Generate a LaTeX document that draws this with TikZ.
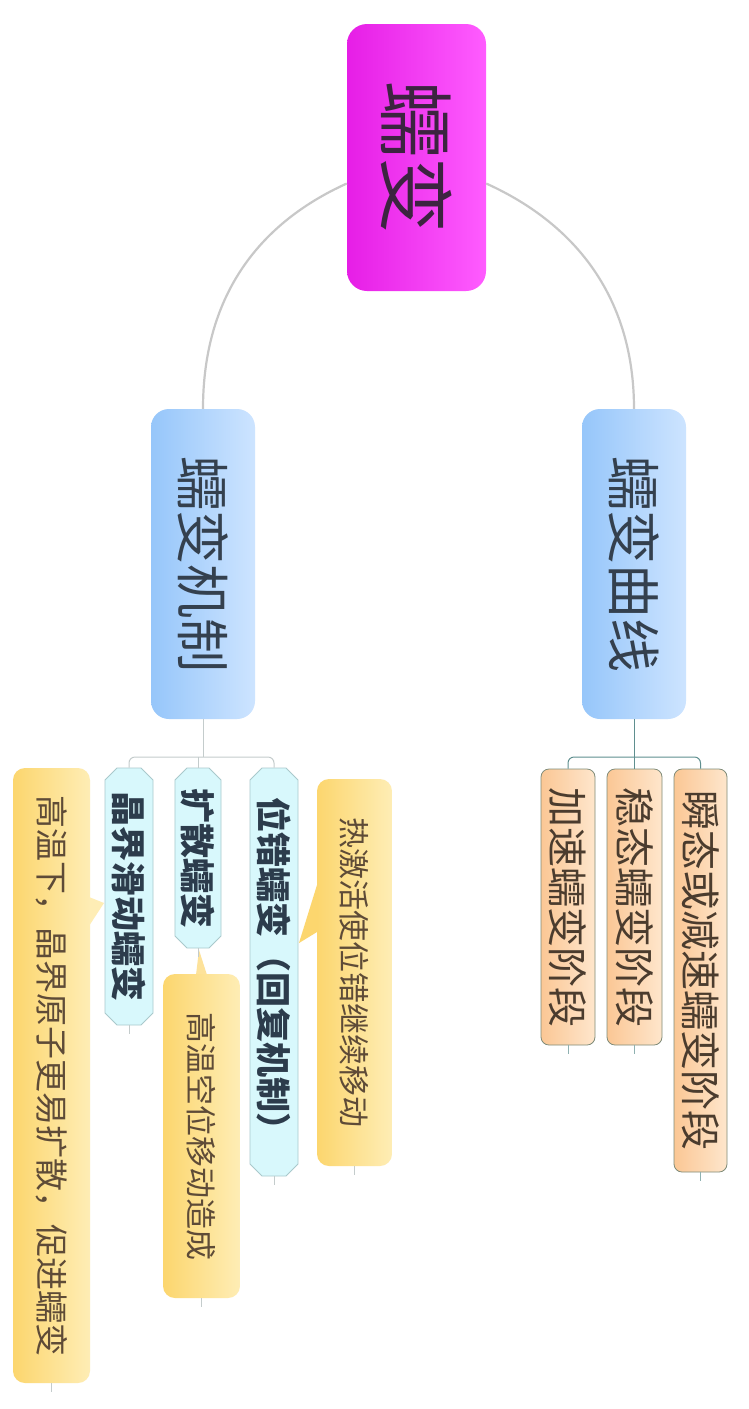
\documentclass[tikz,border=0pt]{standalone}
\usepackage{fontspec}
\usepackage{graphicx}
\usetikzlibrary{shapes.misc,calc}
\newfontfamily\cjk{Noto Sans CJK SC}
\definecolor{rootL}{HTML}{E61EE6}
\definecolor{rootR}{HTML}{FF5CFF}
\definecolor{rootT}{HTML}{3C2440}
\definecolor{loneL}{HTML}{96C6FA}
\definecolor{loneR}{HTML}{CDE4FF}
\definecolor{loneT}{HTML}{34404E}
\definecolor{cyF}{HTML}{D8F8FC}
\definecolor{cyD}{HTML}{A9C9CC}
\definecolor{cyT}{HTML}{2C3C4C}
\definecolor{orL}{HTML}{FBC795}
\definecolor{orR}{HTML}{FEE6CC}
\definecolor{orD}{HTML}{7F8B78}
\definecolor{orT}{HTML}{4B3C2E}
\definecolor{caL}{HTML}{FCD66E}
\definecolor{caR}{HTML}{FEEDB5}
\definecolor{caM}{HTML}{FDE29A}
\definecolor{caT}{HTML}{5E4B37}
\definecolor{arcC}{HTML}{C8C8C8}
\definecolor{brLC}{HTML}{C4CCCC}
\definecolor{brRC}{HTML}{5F8F8F}
\newcommand\vtxt[2]{\rotatebox{-90}{\fontsize{#1}{#1}\selectfont\cjk #2}}
\begin{document}
\begin{tikzpicture}[x=1pt,y=-1pt,
  rootbox/.style={rectangle, rounded corners=20pt, left color=rootL, right color=rootR, draw=none, inner sep=0pt, minimum width=139pt, minimum height=267pt, text=rootT},
  lonebox/.style={rectangle, rounded corners=18pt, left color=loneL, right color=loneR, draw=none, inner sep=0pt, minimum width=104pt, minimum height=310pt, text=loneT},
  cybox/.style={chamfered rectangle, chamfered rectangle xsep=6pt, chamfered rectangle ysep=6pt, fill=cyF, draw=cyD, line width=0.8pt, inner sep=0pt, text=cyT},
  orbox/.style={rectangle, rounded corners=8pt, left color=orL, right color=orR, draw=orD, line width=0.8pt, inner sep=0pt, text=orT},
  cabox/.style={rectangle, rounded corners=12pt, left color=caL, right color=caR, draw=none, inner sep=0pt, text=caT},
  arcline/.style={draw=arcC, line width=2.2pt},
  brL/.style={draw=brLC, line width=1pt},
  brR/.style={draw=brRC, line width=1pt},
  tickL/.style={draw=brLC, line width=0.8pt},
  tickR/.style={draw=brRC!70, line width=0.8pt}]
\useasboundingbox[fill=white] (0,0) rectangle (748,1409);

\coordinate (bl) at (0,757);

% callout pointers
\fill[caL] (317,885) -- (299,943) -- (317,932) -- cycle;
\fill[caM] (196,975) -- (199,950) -- (207,975) -- cycle;
\fill[caR] (89,897) -- (104,903) -- (89,926) -- cycle;

% nodes
\node[rootbox] (root) at (416.5,157.5) {\vtxt{76}{蠕变}};
\node[lonebox] (mech) at (203,564) {\vtxt{54}{蠕变机制}};
\node[lonebox] (curve) at (634,564) {\vtxt{54}{蠕变曲线}};

\node[cybox, minimum width=48pt, minimum height=408pt] (disl) at (274,972) {\vtxt{35}{\bfseries 位错蠕变（回复机制）}};
\node[cybox, minimum width=46pt, minimum height=180pt] (kuosan) at (198,858) {\vtxt{35}{\bfseries 扩散蠕变}};
\node[cybox, minimum width=48pt, minimum height=257pt] (jing) at (129,896.5) {\vtxt{35}{\bfseries 晶界滑动蠕变}};

\node[cabox, minimum width=75pt, minimum height=387pt] (hot) at (354.5,972.5) {\vtxt{31}{热激活使位错继续移动}};
\node[cabox, minimum width=77pt, minimum height=324pt] (vac) at (201.5,1136) {\vtxt{31}{高温空位移动造成}};
\node[cabox, minimum width=77pt, minimum height=615pt] (gb) at (51.5,1075.5) {\vtxt{33}{高温下，晶界原子更易扩散，促进蠕变}};

\node[orbox, minimum width=54pt, minimum height=276pt] (acc) at (568,907) {\vtxt{40}{加速蠕变阶段}};
\node[orbox, minimum width=55pt, minimum height=276pt] (steady) at (634.5,907) {\vtxt{40}{稳态蠕变阶段}};
\node[orbox, minimum width=53pt, minimum height=403pt] (trans) at (700.5,970.5) {\vtxt{40}{瞬态或减速蠕变阶段}};

% arcs
\draw[arcline] ($(root.west)+(0,26)$) .. controls (255,225) and (203,300) .. (mech.north);
\draw[arcline] ($(root.east)+(0,26)$) .. controls (578,225) and (634,300) .. (curve.north);

% brackets
\draw[brL] (mech.south) -- (mech.south |- bl);
\draw[brL, rounded corners=6pt] (jing.north) -- (jing.north |- bl) -- (disl.north |- bl) -- (disl.north);
\draw[brL] (kuosan.north) -- (kuosan.north |- bl);
\draw[brR] (curve.south) -- (curve.south |- bl);
\draw[brR, rounded corners=6pt] (acc.north) -- (acc.north |- bl) -- (trans.north |- bl) -- (trans.north);
\draw[brR] (steady.north) -- (steady.north |- bl);

% end ticks
\foreach \n in {disl,kuosan,jing,hot,vac,gb} \draw[tickL] (\n.south) -- ++(0,9);
\foreach \n in {acc,steady,trans} \draw[tickR] (\n.south) -- ++(0,9);
\end{tikzpicture}
\end{document}
